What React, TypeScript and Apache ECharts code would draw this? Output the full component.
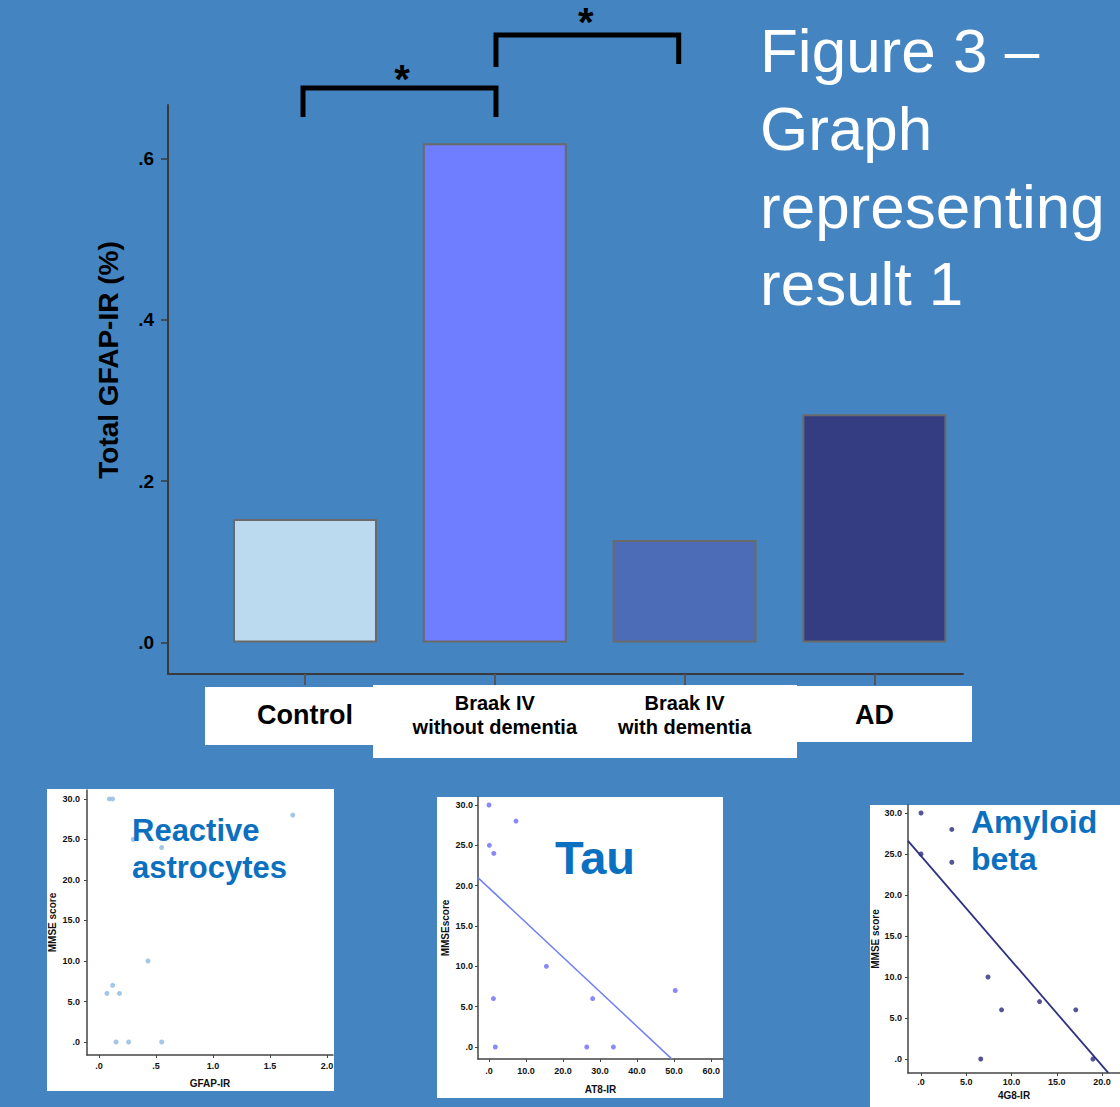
import React, { useEffect, useRef } from 'react';
import * as echarts from 'echarts';

// ---------- main bar chart data ----------
const categories = ['Control', 'Braak IV\nwithout dementia', 'Braak IV\nwith dementia', 'AD'];
const categoryPositions = [0, 1, 2, 3];
const gfapMeans = [0.153, 0.619, 0.127, 0.283];
const mainYTicks = [0, 0.2, 0.4, 0.6];
// significance brackets: [xLeft, xRight, yTop, yLeftEnd, yRightEnd, starX, starY]
const brackets = [
  [-0.0105, 1.0063, 0.6874, 0.6514, 0.6514, 0.511, 0.6985],
  [1.0063, 1.969, 0.7531, 0.7134, 0.7171, 1.48, 0.7693],
];

// ---------- scatter data ----------
const mmseTicks = [0, 5, 10, 15, 20, 25, 30];
const gfapTicks = [0, 0.5, 1, 1.5, 2];
const at8Ticks = [0, 10, 20, 30, 40, 50, 60];
const g48Ticks = [0, 5, 10, 15, 20];

const gfapScatter = [
  [0.09, 30], [0.12, 30], [0.3, 25], [0.55, 24], [1.7, 28], [0.43, 10],
  [0.12, 7], [0.07, 6], [0.18, 6], [0.15, 0], [0.26, 0], [0.55, 0],
];
const tauScatter = [
  [0, 30], [7.3, 28], [0.1, 25], [1.3, 24], [15.5, 10], [1.2, 6],
  [28, 6], [50.3, 7], [1.7, 0], [26.4, 0], [33.6, 0],
];
const tauFit = [[-3.0, 21.0], [49.4, -1.5]];
const amyScatter = [
  [0, 30], [3.4, 28], [0, 25], [3.4, 24], [7.4, 10], [8.9, 6],
  [13.1, 7], [17.1, 6], [6.6, 0], [19.0, 0],
];
const amyFit = [[-1.44, 26.6], [20.7, -1.7]];

const FONT = '"Liberation Sans", Arial, sans-serif';
const barColors = ['#BBDAF0', '#6F7EFF', '#4D6CB8', '#343C82'];

const fmtMain = (v: number) => v.toFixed(1).replace(/^0\./, '.');
const fmtOne = (v: number) => (Math.abs(v) < 1e-9 ? '.0' : v < 1 ? String(v).replace(/^0\./, '.') : v.toFixed(1));

function scatterY(gridIndex: number, min: number, max: number, name: string, gap: number, margin: number) {
  return {
    type: 'value', gridIndex, min, max, name, nameLocation: 'middle', nameGap: gap,
    nameTextStyle: { fontFamily: FONT, fontSize: 10, fontWeight: 'bold', color: '#111' },
    splitLine: { show: false },
    axisLine: { show: true, onZero: false, lineStyle: { color: '#444', width: 1.5 } },
    axisTick: { show: true, length: 3, customValues: mmseTicks, lineStyle: { color: '#444' } },
    axisLabel: { customValues: mmseTicks, formatter: fmtOne, margin, fontFamily: FONT, fontSize: 9, fontWeight: 'bold', color: '#111' },
  };
}
function scatterX(gridIndex: number, min: number, max: number, ticks: number[], name: string, gap: number, margin: number) {
  return {
    type: 'value', gridIndex, min, max, name, nameLocation: 'middle', nameGap: gap,
    nameTextStyle: { fontFamily: FONT, fontSize: 10, fontWeight: 'bold', color: '#111' },
    splitLine: { show: false },
    axisLine: { show: true, onZero: false, lineStyle: { color: '#444', width: 1.5 } },
    axisTick: { show: true, length: 3, customValues: ticks, lineStyle: { color: '#444' } },
    axisLabel: { customValues: ticks, formatter: fmtOne, margin, fontFamily: FONT, fontSize: 9, fontWeight: 'bold', color: '#111' },
  };
}

export default function App() {
  const ref = useRef<HTMLDivElement>(null);
  useEffect(() => {
    if (!ref.current) return;
    const chart = echarts.init(ref.current, undefined, { renderer: 'svg' });
    const option: any = {
      animation: false,
      backgroundColor: '#4485C1',
      grid: [
        { left: 168, top: 105, width: 795, height: 569 },
        { left: 87, top: 790, width: 246, height: 265 },
        { left: 478, top: 797, width: 245, height: 262 },
        { left: 908, top: 805, width: 212, height: 268 },
      ],
      xAxis: [
        {
          type: 'value', gridIndex: 0, min: -0.7218, max: 3.4668, z: 10,
          splitLine: { show: false },
          axisLine: { show: true, onZero: false, lineStyle: { color: '#3a3a3a', width: 2 } },
          axisTick: { show: true, length: 11, customValues: categoryPositions, lineStyle: { color: '#555', width: 2 } },
          axisLabel: {
            customValues: categoryPositions,
            margin: 41,
            verticalAlign: 'middle',
            formatter: (v: number) => {
              const name = categories[Math.round(v)] || '';
              return name.includes('\n')
                ? name.split('\n').map((s) => `{s|${s}}`).join('\n')
                : `{b|${name}}`;
            },
            rich: {
              b: { fontFamily: FONT, fontSize: 27, fontWeight: 'bold', color: '#000', lineHeight: 30 },
              s: { fontFamily: FONT, fontSize: 20, fontWeight: 'bold', color: '#000', lineHeight: 24 },
            },
          },
        },
        scatterX(1, -0.105, 2.053, gfapTicks, 'GFAP-IR', 23, 6),
        scatterX(2, -2.97, 63.2, at8Ticks, 'AT8-IR', 25, 7),
        scatterX(3, -1.44, 21.99, g48Ticks, '4G8-IR', 17, 4),
      ],
      yAxis: [
        {
          type: 'value', gridIndex: 0, min: -0.039, max: 0.6663,
          name: 'Total GFAP-IR (%)', nameLocation: 'middle', nameGap: 46,
          nameTextStyle: { fontFamily: FONT, fontSize: 28, fontWeight: 'bold', color: '#000', padding: [0, 0, 0, 59] },
          splitLine: { show: false },
          axisLine: { show: true, onZero: false, lineStyle: { color: '#3a3a3a', width: 2 } },
          axisTick: { show: true, length: 7, customValues: mainYTicks, lineStyle: { color: '#3a3a3a', width: 1.5 } },
          axisLabel: { customValues: mainYTicks, formatter: fmtMain, margin: 14, fontFamily: FONT, fontSize: 19, fontWeight: 'bold', color: '#000' },
        },
        scatterY(1, -1.6, 31.1, 'MMSE score', 30, 7),
        scatterY(2, -1.49, 30.99, 'MMSEscore', 28, 5),
        scatterY(3, -1.71, 30.98, 'MMSE score', 28, 6),
      ],
      series: [
        {
          type: 'bar', xAxisIndex: 0, yAxisIndex: 0, barWidth: 144,
          data: gfapMeans.map((v, i) => ({
            value: [categoryPositions[i], v],
            itemStyle: { color: barColors[i], borderColor: '#6a6a6a', borderWidth: 2 },
          })),
        },
        {
          type: 'custom', xAxisIndex: 0, yAxisIndex: 0, clip: false, z: 20,
          data: brackets,
          renderItem: (params: any, api: any) => {
            const x0 = api.value(0), x1 = api.value(1), yt = api.value(2);
            const yb0 = api.value(3), yb1 = api.value(4), sx = api.value(5), sy = api.value(6);
            const pts = [api.coord([x0, yb0]), api.coord([x0, yt]), api.coord([x1, yt]), api.coord([x1, yb1])];
            const star = api.coord([sx, sy]);
            return {
              type: 'group',
              children: [
                { type: 'polyline', shape: { points: pts }, style: { stroke: '#000', lineWidth: 5, fill: 'none', lineJoin: 'miter' } },
                { type: 'text', x: star[0], y: star[1], style: { text: '*', fontFamily: FONT, fontSize: 40, fontWeight: 'bold', fill: '#000', align: 'center', verticalAlign: 'middle' } },
              ],
            };
          },
        },
        { type: 'scatter', xAxisIndex: 1, yAxisIndex: 1, data: gfapScatter, symbolSize: 5, itemStyle: { color: '#8DB8E2' } },
        { type: 'line', xAxisIndex: 2, yAxisIndex: 2, data: tauFit, symbol: 'none', lineStyle: { color: '#7080F5', width: 1.5 } },
        { type: 'scatter', xAxisIndex: 2, yAxisIndex: 2, data: tauScatter, symbolSize: 5, itemStyle: { color: '#6B6BFA' } },
        { type: 'line', xAxisIndex: 3, yAxisIndex: 3, data: amyFit, symbol: 'none', lineStyle: { color: '#2E3180', width: 1.8 } },
        { type: 'scatter', xAxisIndex: 3, yAxisIndex: 3, data: amyScatter, symbolSize: 5, itemStyle: { color: '#2B2A7A' } },
      ],
      graphic: [
        // white label boxes under the category axis
        { type: 'rect', z: -5, shape: { x: 205, y: 687, width: 168, height: 58 }, style: { fill: '#fff' } },
        { type: 'rect', z: -5, shape: { x: 373, y: 685, width: 424, height: 73 }, style: { fill: '#fff' } },
        { type: 'rect', z: -5, shape: { x: 797, y: 686, width: 175, height: 56 }, style: { fill: '#fff' } },
        // white scatter panels
        { type: 'rect', z: -5, shape: { x: 47, y: 789, width: 287, height: 302 }, style: { fill: '#fff' } },
        { type: 'rect', z: -5, shape: { x: 437, y: 797, width: 286, height: 301 }, style: { fill: '#fff' } },
        { type: 'rect', z: -5, shape: { x: 870, y: 805, width: 250, height: 302 }, style: { fill: '#fff' } },
        // title
        {
          type: 'text', z: 50, x: 760, y: 12,
          style: { text: 'Figure 3 –\nGraph\nrepresenting\nresult 1', fontFamily: FONT, fontSize: 62, lineHeight: 77.7, fill: '#fff', align: 'left', verticalAlign: 'top' },
        },
        {
          type: 'text', z: 50, x: 132, y: 812,
          style: { text: 'Reactive\nastrocytes', fontFamily: FONT, fontSize: 31, fontWeight: 'bold', lineHeight: 37, fill: '#0C70C0', align: 'left', verticalAlign: 'top' },
        },
        {
          type: 'text', z: 50, x: 555, y: 857,
          style: { text: 'Tau', fontFamily: FONT, fontSize: 47, fontWeight: 'bold', fill: '#0C70C0', align: 'left', verticalAlign: 'middle' },
        },
        {
          type: 'text', z: 50, x: 971, y: 803,
          style: { text: 'Amyloid\nbeta', fontFamily: FONT, fontSize: 32, fontWeight: 'bold', lineHeight: 37, fill: '#0C70C0', align: 'left', verticalAlign: 'top' },
        },
      ],
    };
    chart.setOption(option);
    return () => chart.dispose();
  }, []);
  return (
    <div
      ref={ref}
      style={{ position: 'absolute', left: 0, top: 0, width: 1120, height: 1107 }}
    />
  );
}
